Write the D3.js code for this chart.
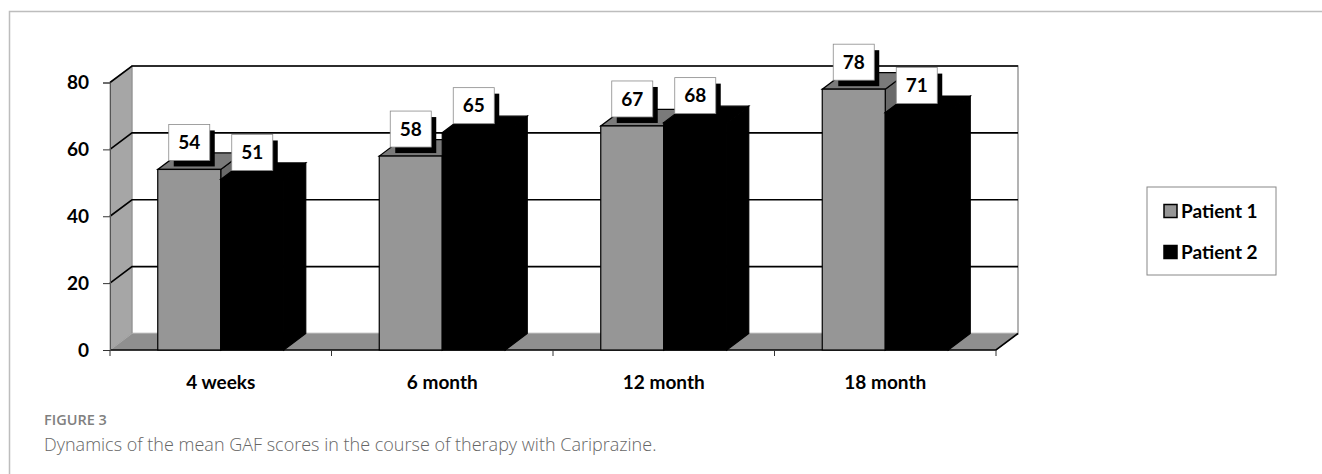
<!DOCTYPE html>
<html>
<head>
<meta charset='UTF-8'>
<title>GAF scores</title>
<script src='https://cdn.jsdelivr.net/npm/d3@7/dist/d3.min.js'></script>
<style>
  body { margin:0; background:#fff; }
  .lbl { font-family: Lato, 'Liberation Sans', sans-serif; font-weight:bold; font-size:19px; fill:#000; }
</style>
</head>
<body>
<div id='chart'></div>
<script>
// data
var categories = ['4 weeks', '6 month', '12 month', '18 month'];
var seriesNames = ['Patient 1', 'Patient 2'];
var patient1 = [54, 58, 67, 78];
var patient2 = [51, 65, 68, 71];
var yTicks = [0, 20, 40, 60, 80];

var width = 1322, height = 474;
var dx = 22, dy = -16.5;   // 3d depth offset
var barW = 63;
var fills = {
  'Patient 1': {front:'#969696', top:'#7a7a7a', side:'#6a6a6a'},
  'Patient 2': {front:'#000', top:'#000', side:'#000'}
};

var svg = d3.select('#chart').append('svg')
  .attr('width', width)
  .attr('height', height);

svg.append('rect').attr('width', width).attr('height', height).attr('fill', '#fff');

// figure frame
svg.append('path')
  .attr('d', 'M9.5,474V11.5H1322')
  .attr('fill', 'none')
  .attr('stroke', '#bdbdbd')
  .attr('stroke-width', 1.5);

/* Scales */
var x = d3.scaleBand().domain(categories).range([110, 996]);
var y = d3.scaleLinear().domain([0, 80]).range([350, 82.5]);
var xs = d3.scaleBand().domain(seriesNames).range([0, barW * 2]);

var g = svg.append('g');
var y0 = y(0), yTop = y(80);
var x0 = x.range()[0], x1 = x.range()[1];

/* walls */
g.append('polygon')
  .attr('points', [[x0, yTop], [x0 + dx, yTop + dy], [x0 + dx, y0 + dy], [x0, y0]].join(' '))
  .attr('fill', '#a6a6a6')
  .attr('stroke', '#808080')
  .attr('stroke-width', 0.8);

g.append('rect')
  .attr('x', x0 + dx).attr('y', yTop + dy)
  .attr('width', x1 - x0).attr('height', y0 - yTop)
  .attr('fill', '#fff')
  .attr('stroke', '#9a9a9a')
  .attr('stroke-width', 1.5);

g.append('polygon')
  .attr('points', [[x0, y0], [x1, y0], [x1 + dx, y0 + dy], [x0 + dx, y0 + dy]].join(' '))
  .attr('fill', '#8f8f8f')
  .attr('stroke', '#b0b0b0')
  .attr('stroke-width', 0.8);

// gridlines
g.selectAll('.grid')
  .data(yTicks.filter(function(t) { return t > 0; }))
  .enter().append('path')
  .attr('class', 'grid')
  .attr('d', function(t) { return 'M' + x0 + ',' + y(t) + 'L' + (x0 + dx) + ',' + (y(t) + dy) + 'L' + (x1 + dx) + ',' + (y(t) + dy); })
  .attr('fill', 'none')
  .attr('stroke', '#000')
  .attr('stroke-width', 1.6);

// floor front edges
g.append('path')
  .attr('d', 'M' + x0 + ',' + y0 + 'H' + x1 + 'L' + (x1 + dx) + ',' + (y0 + dy))
  .attr('fill', 'none')
  .attr('stroke', '#000')
  .attr('stroke-width', 1.6);

/* Bars */
var rows = [];
categories.forEach(function(c, i) {
  rows.push({cat: c, name: 'Patient 1', value: patient1[i]});
  rows.push({cat: c, name: 'Patient 2', value: patient2[i]});
});
rows.forEach(function(d) {
  d.x = x(d.cat) + x.bandwidth() / 2 - barW + xs(d.name);
});

var bars = g.selectAll('.bar').data(rows).enter().append('g').attr('class', 'bar');

bars.append('polygon')   // side
  .attr('points', function(d) {
    var r = d.x + barW, t = y(d.value);
    return [[r, t], [r + dx, t + dy], [r + dx, y0 + dy], [r, y0]].join(' ');
  })
  .attr('fill', function(d) { return fills[d.name].side; })
  .attr('stroke', '#000').attr('stroke-width', 1.2);

bars.append('polygon')   // top
  .attr('points', function(d) {
    var t = y(d.value);
    return [[d.x, t], [d.x + barW, t], [d.x + barW + dx, t + dy], [d.x + dx, t + dy]].join(' ');
  })
  .attr('fill', function(d) { return fills[d.name].top; })
  .attr('stroke', '#000').attr('stroke-width', 1.2);

bars.append('rect')      // front
  .attr('x', function(d) { return d.x; })
  .attr('y', function(d) { return y(d.value); })
  .attr('width', barW)
  .attr('height', function(d) { return y0 - y(d.value); })
  .attr('fill', function(d) { return fills[d.name].front; })
  .attr('stroke', '#000').attr('stroke-width', 1.2);

/* Axes */
var yAxis = d3.axisLeft(y).tickValues(yTicks).tickSize(7).tickPadding(14);
var ya = g.append('g').attr('transform', 'translate(' + x0 + ',0)').call(yAxis);
ya.select('.domain').attr('stroke', '#555').attr('stroke-width', 1);
ya.selectAll('.tick line').attr('stroke', '#333');
ya.selectAll('text').attr('class', 'lbl');

var xAxis = d3.axisBottom(x).tickSize(0).tickPadding(26);
var xa = g.append('g').attr('transform', 'translate(0,' + y0 + ')').call(xAxis);
xa.select('.domain').remove();
xa.selectAll('text').attr('class', 'lbl');

var bounds = categories.map(function(c) { return x(c); }).concat([x1]);
g.selectAll('.xtick').data(bounds).enter().append('line')
  .attr('x1', function(d) { return d; }).attr('x2', function(d) { return d; })
  .attr('y1', y0).attr('y2', y0 + 6)
  .attr('stroke', '#333');

/* data labels */
var labels = g.selectAll('.dl').data(rows).enter().append('g')
  .attr('class', 'dl')
  .attr('transform', function(d) { return 'translate(' + (d.x + barW / 2) + ',' + (y(d.value) - 27) + ')'; });
labels.append('rect')
  .attr('x', -20.5 + 5).attr('y', -18 + 6).attr('width', 41).attr('height', 36)
  .attr('fill', '#000');
labels.append('rect')
  .attr('x', -20.5).attr('y', -18).attr('width', 41).attr('height', 36)
  .attr('fill', '#fff').attr('stroke', '#8a8a8a').attr('stroke-width', 0.8);
labels.append('text')
  .attr('class', 'lbl')
  .attr('text-anchor', 'middle')
  .attr('dy', '0.35em')
  .text(function(d) { return d.value; });

/* Legend */
var leg = svg.append('g').attr('transform', 'translate(1147,187)');
leg.append('rect').attr('width', 129).attr('height', 88)
  .attr('fill', '#fff').attr('stroke', '#888').attr('stroke-width', 1);
var li = leg.selectAll('.li').data(seriesNames).enter().append('g')
  .attr('transform', function(d, i) { return 'translate(17,' + (24 + i * 41) + ')'; });
li.append('rect').attr('x', 0).attr('y', -6.5).attr('width', 13).attr('height', 13)
  .attr('fill', function(d) { return fills[d].front; })
  .attr('stroke', '#000').attr('stroke-width', 1.5);
li.append('text').attr('class', 'lbl').attr('x', 17).attr('dy', '0.35em')
  .text(function(d) { return d; });

/* Caption */
svg.append('text')
  .attr('x', 44).attr('y', 425)
  .style('font-family', "'Open Sans', sans-serif").style('font-weight', 600)
  .style('font-size', '14.5px').style('fill', '#808080')
  .text('FIGURE 3');
svg.append('text')
  .attr('x', 44).attr('y', 451)
  .style('font-family', "'Open Sans', sans-serif").style('font-weight', 300)
  .style('font-size', '18px').style('fill', '#666')
  .text('Dynamics of the mean GAF scores in the course of therapy with Cariprazine.');
</script>
</body>
</html>
